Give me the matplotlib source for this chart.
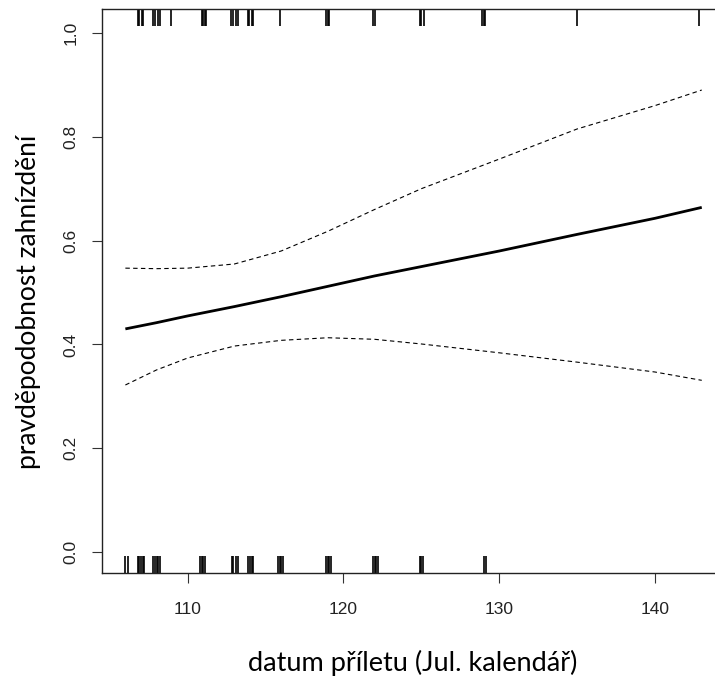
import matplotlib
matplotlib.use("Agg")
import matplotlib.pyplot as plt
import matplotlib.transforms as mtransforms

# fitted curve and confidence band
x_fit = [106, 108, 110, 113, 116, 119, 122, 125, 130, 135, 140, 143]
y_fit = [0.430, 0.442, 0.455, 0.473, 0.492, 0.512, 0.532, 0.550, 0.580, 0.612, 0.643, 0.664]
y_upper = [0.547, 0.546, 0.547, 0.555, 0.580, 0.618, 0.660, 0.700, 0.757, 0.815, 0.860, 0.890]
y_lower = [0.322, 0.351, 0.374, 0.397, 0.408, 0.413, 0.410, 0.401, 0.384, 0.366, 0.347, 0.331]

# rug marks (observations): y=1 on top, y=0 on bottom
rug_top = [106.8, 106.9, 107.05, 107.15, 107.8, 107.9, 108.1, 108.2, 108.95,
           110.9, 111.0, 111.1, 111.2, 112.8, 112.9, 113.1, 113.2, 113.85, 113.95,
           114.1, 114.2, 115.95, 118.9, 119.0, 119.1, 121.9, 122.0,
           124.9, 125.0, 125.15, 128.9, 129.0, 129.1, 135.0, 142.8]
rug_bottom = [106.0, 106.15, 106.8, 106.9, 107.0, 107.1, 107.2, 107.8, 107.9, 108.0,
              108.1, 108.25, 110.8, 110.9, 111.0, 111.1, 112.85, 112.9, 113.1, 113.2,
              113.9, 114.0, 114.1, 114.2, 115.8, 115.9, 116.0, 116.1, 118.9, 119.0,
              119.1, 119.2, 121.9, 122.0, 122.1, 122.2, 124.9, 125.0, 125.1,
              129.05, 129.15]

x_ticks = [110, 120, 130, 140]
y_ticks = [0.0, 0.2, 0.4, 0.6, 0.8, 1.0]

W, H = 715, 677
fig = plt.figure(figsize=(W / 100, H / 100), dpi=100)
ax = fig.add_axes([102 / W, (H - 573) / H, (715 - 102) / W, (573 - 9) / H])

ax.plot(x_fit, y_fit, color="black", lw=2.0, solid_capstyle="butt")
ax.plot(x_fit, y_upper, color="black", lw=0.8, linestyle=(0, (4, 3)))
ax.plot(x_fit, y_lower, color="black", lw=0.8, linestyle=(0, (4, 3)))

trans = mtransforms.blended_transform_factory(ax.transData, ax.transAxes)
rlen = 17 / 564
ax.vlines(rug_bottom, 0, rlen, transform=trans, color="black", lw=1.2)
ax.vlines(rug_top, 1 - rlen, 1, transform=trans, color="black", lw=1.2)

ax.set_xlim(104.5, 143.85)
ax.set_ylim(-0.04, 1.046)
ax.set_xticks(x_ticks)
ax.set_xticklabels([str(t) for t in x_ticks], fontfamily="Liberation Sans", fontsize=12.5)
ax.set_yticks(y_ticks)
ax.set_yticklabels([f"{t:.1f}" for t in y_ticks], fontfamily="Liberation Sans",
                   fontsize=12.5, rotation=90, va="center")
ax.tick_params(axis="both", direction="out", length=7, width=0.8, color="#333333",
               labelcolor="#222222")
ax.tick_params(axis="x", pad=14)
ax.tick_params(axis="y", pad=10)

for s in ["left", "bottom", "top"]:
    ax.spines[s].set_linewidth(1.0)
    ax.spines[s].set_color("#222222")
ax.spines["right"].set_visible(False)

fig.text(413 / W, 1 - 663 / H, "datum příletu (Jul. kalendář)", ha="center", va="center",
         fontfamily="Lato", fontsize=19.5)
fig.text(29 / W, 1 - 302 / H, "pravděpodobnost zahnízdění", ha="center", va="center",
         rotation=90, fontfamily="Lato", fontsize=19)

fig.savefig("out.png", dpi=100)
